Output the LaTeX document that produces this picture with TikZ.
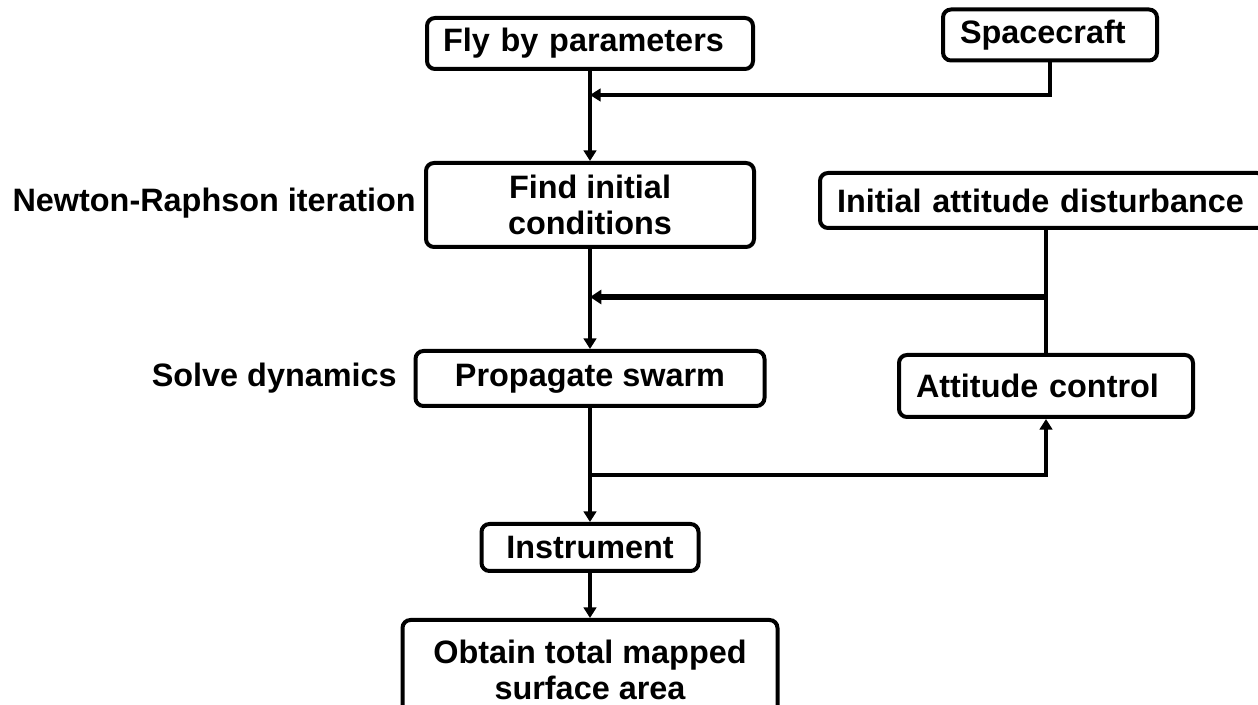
\documentclass[tikz,border=0pt]{standalone}
\usepackage{fontspec}
\setmainfont{Liberation Sans}
\usetikzlibrary{arrows.meta}
\begin{document}
\begin{tikzpicture}[x=0.75pt,y=-0.75pt,
  txt/.style={font=\bfseries\fontsize{24.3}{27.3}\selectfont},
  box/.style={txt, draw, line width=3pt, rounded corners=6pt, inner sep=0pt, align=center},
  lbox/.style={box, align=left, inner ysep=0pt},
  lbl/.style={txt, inner sep=0pt},
  line/.style={line width=3pt},
  conn/.style={line, -{Triangle[length=8pt,width=9.5pt]}},
  thickconn/.style={line width=4.8pt, -{Triangle[length=8.5pt,width=10.5pt]}}
]
\useasboundingbox (0,0) rectangle (1258,705);
\clip (0,0) rectangle (1258,705);

% nodes
\node[lbox, text width=220.5pt, inner xsep=12pt, minimum height=38.25pt] (fly) at (590,43.5) {Fly by parameters};
\node[lbox, text width=135pt, inner xsep=12.75pt, minimum height=38.25pt] (space) at (1050,35) {Spacecraft};
\node[box, minimum width=246pt, minimum height=63pt] (find) at (590,205) {Find initial\\conditions};
\node[lbox, text width=308.25pt, inner xsep=12.75pt, minimum height=41.25pt] (iad) at (1042.5,200.5) {Initial attitude disturbance};
\node[box, minimum width=261.75pt, minimum height=41.25pt] (prop) at (590,378.5) {Propagate swarm};
\node[lbox, text width=195pt, inner xsep=12.75pt, minimum height=46.5pt] (att) at (1046,386) {Attitude control};
\node[box, minimum width=162.75pt, minimum height=35.25pt] (inst) at (590,547.5) {Instrument};
\node[box, minimum width=281.25pt, minimum height=75pt] (obt) at (590,670) {Obtain total mapped\\surface area};

\node[lbl, anchor=east] (nr) at (416,203) {Newton-Raphson iteration};
\node[lbl, anchor=east] (sd) at (397,378) {Solve dynamics};

% junction points
\coordinate (j1) at (590,95);
\coordinate (j2) at (1046,297);
\coordinate (j2l) at (590,297);
\coordinate (j3) at (590,475);

% connectors
\draw[conn] (fly) -- (find);
\draw[conn] (space.south) |- (j1);
\draw[conn] (find) -- (prop);
\draw[line] (att.north) -- (att.north |- iad.south);
\draw[thickconn] (j2) -- (j2l);
\draw[conn] (prop) -- (inst);
\draw[conn] (j3) -| (att.south);
\draw[conn] (inst) -- (obt);
\end{tikzpicture}
\end{document}
